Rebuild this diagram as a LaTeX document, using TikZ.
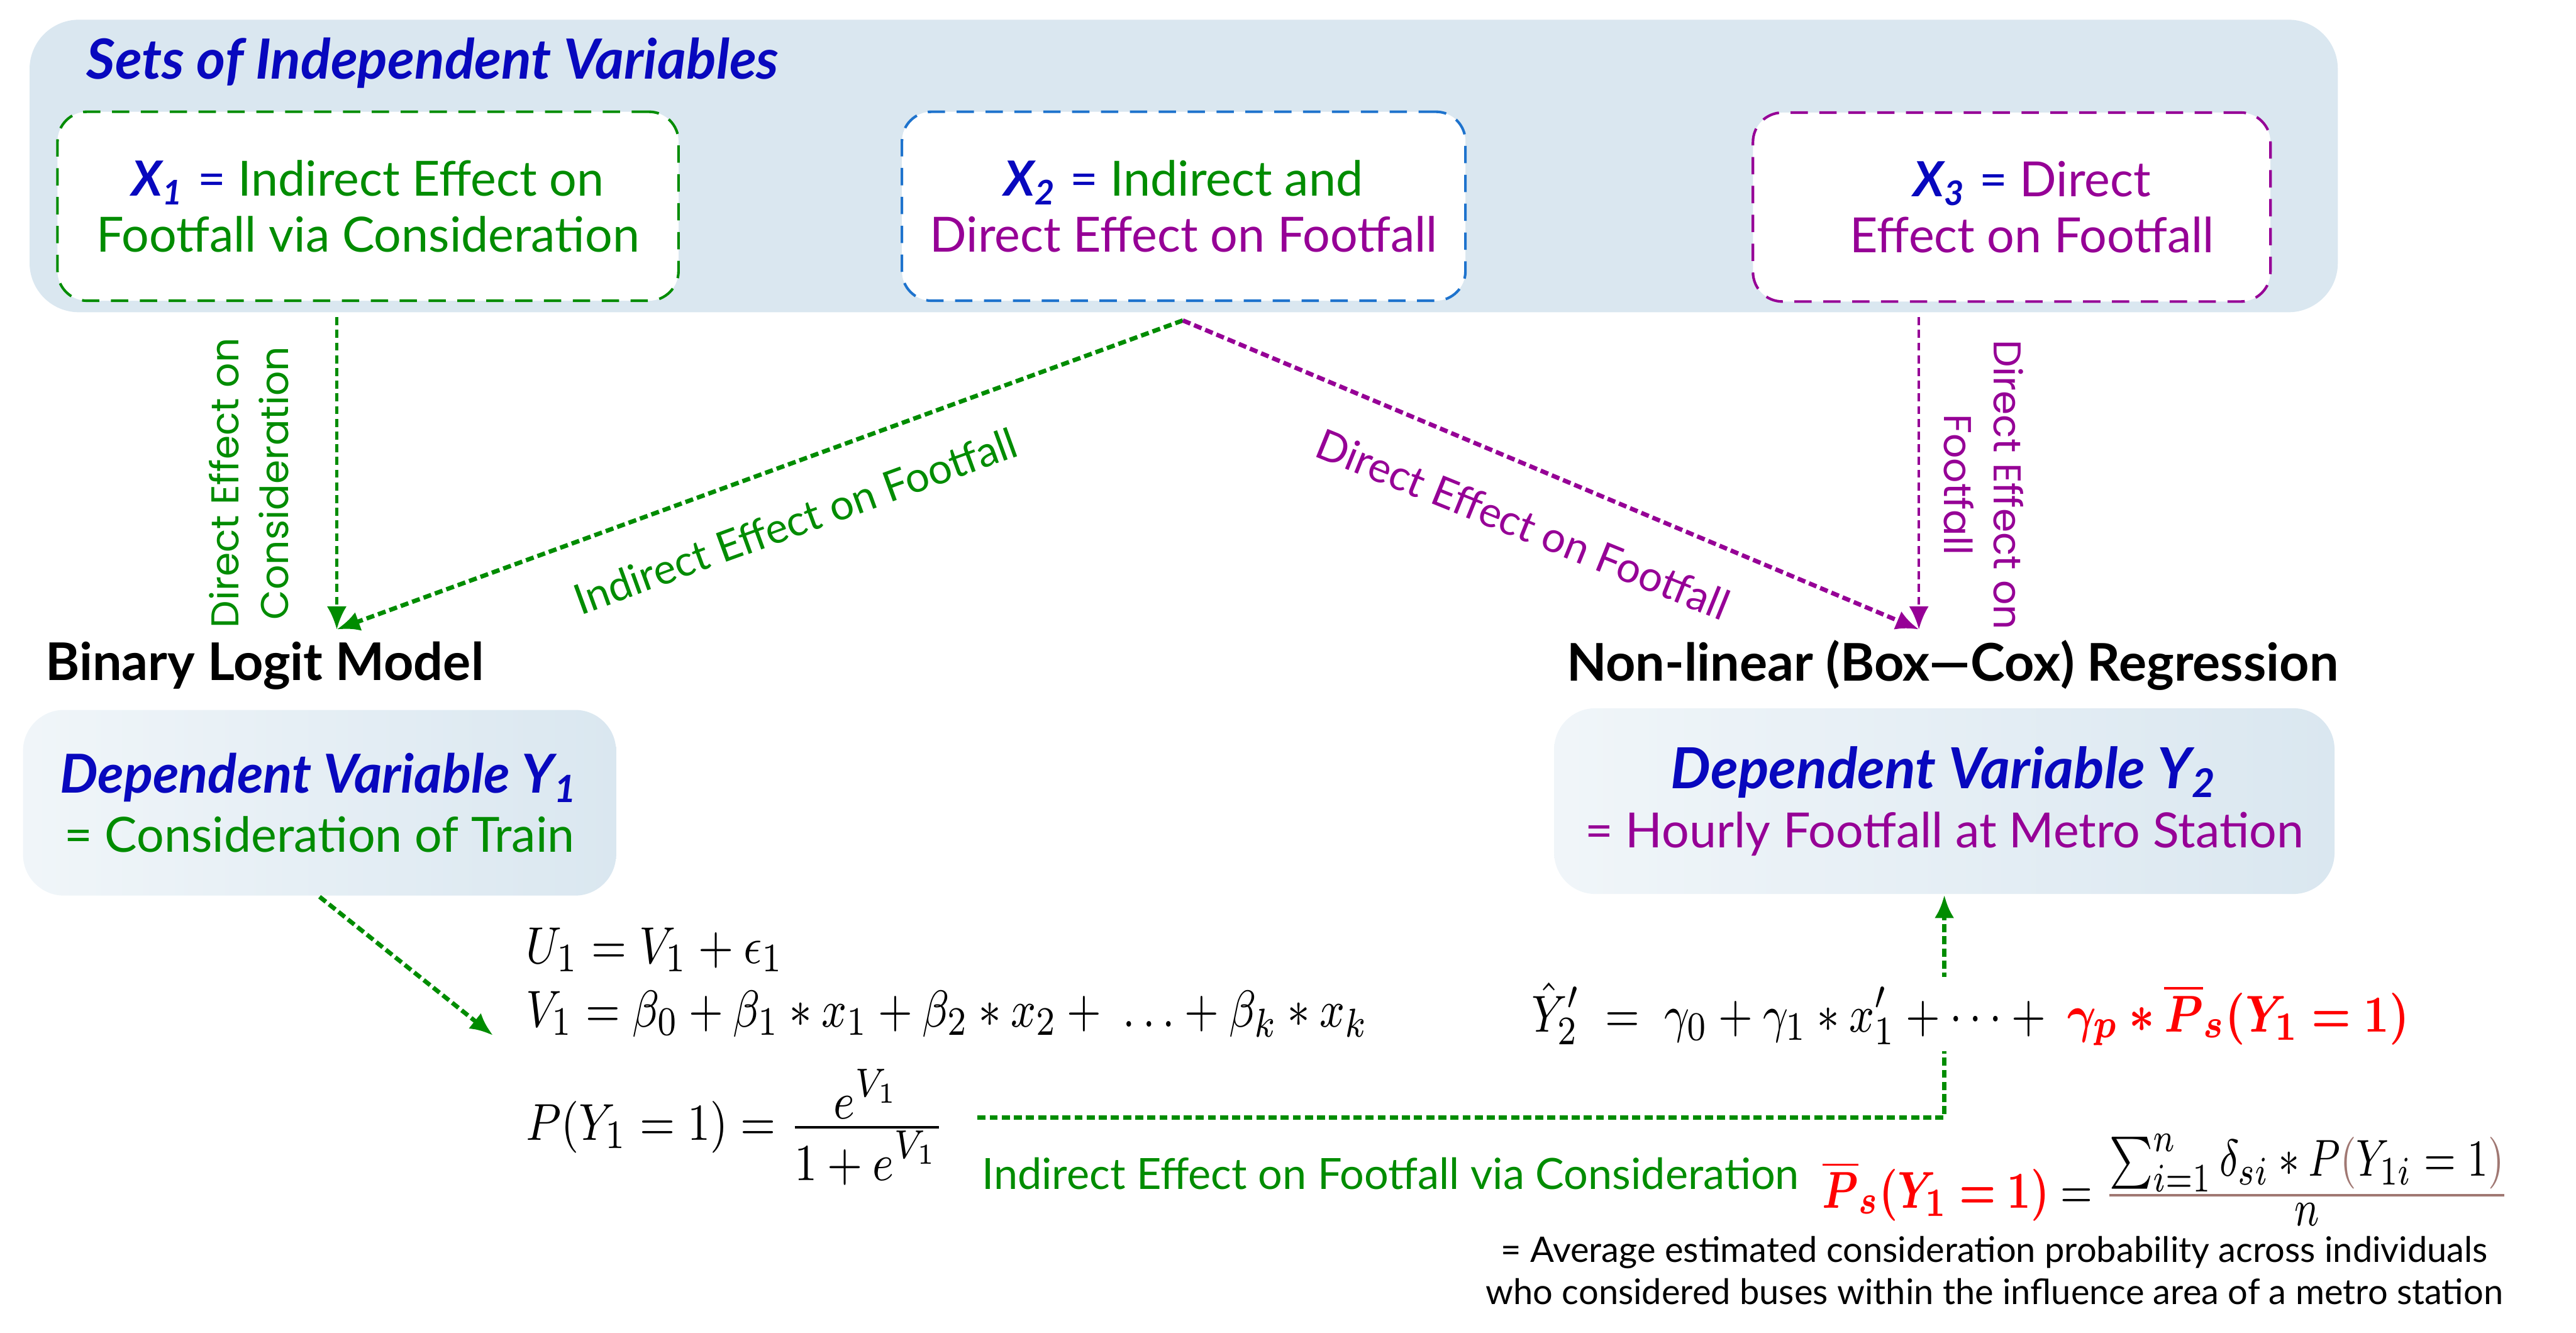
\documentclass[tikz,border=0pt]{standalone}
\usepackage[no-math]{fontspec}
\setmainfont{Lato}
\newfontfamily\gothic{Poppins}
\usepackage{amsmath,bm}
\usetikzlibrary{arrows.meta,positioning}

\definecolor{dblue}{RGB}{8,8,190}
\definecolor{ggreen}{RGB}{0,140,0}
\definecolor{ppurple}{RGB}{150,0,150}
\definecolor{bblue}{RGB}{30,115,205}
\definecolor{panelfill}{RGB}{218,231,240}
\definecolor{brn}{RGB}{160,120,115}

\newcommand{\xlab}[1]{\textcolor{dblue}{\textbf{\textit{X\textsubscript{#1}}} =}}
\newcommand{\ylab}[1]{\textcolor{dblue}{\textbf{\textit{Dependent Variable Y\textsubscript{#1}}}}}
\newcommand{\eqfit}[2][0.85]{\scalebox{#1}[1]{#2}}

\tikzset{
  panel/.style={fill=panelfill, rounded corners=0.3cm, minimum width=14.05cm, minimum height=1.78cm},
  xbox/.style={draw, densely dashed, line width=0.45pt, rounded corners=0.18cm, fill=white, align=center, minimum height=1.15cm, font=\fontsize{8.4}{9.7}\selectfont},
  ybox/.style={rounded corners=0.25cm, left color=panelfill!40, right color=panelfill, align=center, minimum height=1.13cm, font=\fontsize{8.4}{10.2}\selectfont},
  heading/.style={font=\fontsize{9}{10}\selectfont\bfseries, inner sep=0pt},
  vlab/.style={font=\gothic\fontsize{6.7}{8.6}\selectfont, align=center},
  dlab/.style={font=\fontsize{7.3}{9}\selectfont},
  gvert/.style={ggreen, line width=0.5pt, dash pattern=on 1.4pt off 0.8pt, -{Latex[length=1.4mm,width=1.2mm]}},
  pvert/.style={ppurple, line width=0.5pt, dash pattern=on 1.4pt off 0.8pt, -{Latex[length=1.4mm,width=1.2mm]}},
  gdiag/.style={ggreen, line width=0.75pt, dash pattern=on 1.4pt off 0.7pt, -{Latex[length=1.4mm,width=1.2mm]}},
  pdiag/.style={ppurple, line width=0.75pt, dash pattern=on 1.4pt off 0.7pt, -{Latex[length=1.4mm,width=1.2mm]}},
  eq/.style={font=\fontsize{9.5}{11}\selectfont, inner sep=1pt}
}

\begin{document}
\begin{tikzpicture}[font=\fontsize{7.5}{9.7}\selectfont]
\useasboundingbox (0,0) rectangle (15.68,-8.11);

% independent variables
\node[panel] (panel) at (7.205,-1.01) {};
\node[heading, text=dblue, anchor=base west, font=\fontsize{9.6}{10}\selectfont\bfseries\itshape] (sets) at (0.52,-0.48) {Sets of Independent Variables};
\node[xbox, draw=ggreen, text=ggreen, minimum width=3.78cm] (x1) at (2.24,-1.255) {\xlab{1} Indirect Effect on\\Footfall via Consideration};
\node[xbox, draw=bblue, text=ppurple, minimum width=3.43cm] (x2) at (7.205,-1.255) {\xlab{2} \textcolor{ggreen}{Indirect and}\\Direct Effect on Footfall};
\node[xbox, draw=ppurple, text=ppurple, minimum width=3.15cm] (x3) at (12.245,-1.26) {\hspace*{0.25cm}\xlab{3} Direct\\\hspace*{0.25cm}Effect on Footfall};

\coordinate (top1) at (2.05,-1.93);
\coordinate (top2) at (7.20,-1.95);
\coordinate (top3) at (11.68,-1.93);
\coordinate (lt) at (2.05,-3.83);
\coordinate (rt) at (11.68,-3.83);

\draw[gvert] (top1) -- (lt);
\draw[gdiag] (top2) -- (lt);
\draw[pdiag] (top2) -- (rt);
\draw[pvert] (top3) -- (rt);

\node[vlab, text=ggreen, rotate=90] (lab1) at (1.515,-2.94) {Direct Effect on\\Consideration};
\node[dlab, text=ggreen, rotate=20] (lab2) at (4.84,-3.17) {Indirect Effect on Footfall};
\node[dlab, text=ppurple, rotate=-22] (lab3) at (9.27,-3.19) {Direct Effect on Footfall};
\node[vlab, text=ppurple, rotate=-90] (lab4) at (12.075,-2.95) {Direct Effect on\\Footfall};

% dependent variables
\node[heading, anchor=west] (binary) at (0.27,-4.05) {Binary Logit Model};
\node[heading, anchor=east] (boxcox) at (14.24,-4.05) {Non-linear (Box---Cox) Regression};
\node[ybox, minimum width=3.61cm, text=ggreen] (y1) at (1.945,-4.885) {{\fontsize{9.3}{10.2}\selectfont\ylab{1}}\\= Consideration of Train};
\node[ybox, minimum width=4.75cm, text=ppurple] (y2) at (11.835,-4.875) {{\fontsize{9.8}{10.2}\selectfont\ylab{2}}\\= Hourly Footfall at Metro Station};

% equations
\coordinate (pin) at (3.00,-6.30);
\coordinate (ind) at (5.95,-6.80);
\draw[gdiag] (y1.south) -- (pin);
\draw[gdiag] (ind) -| (y2.south);

\node[eq, anchor=west] (equ) at (3.16,-5.78) {\eqfit{$U_1 = V_1 + \epsilon_1$}};
\node[eq, anchor=west] (eqv) at (3.16,-6.17) {\eqfit[0.83]{$V_1 = \beta_0 + \beta_1 \ast x_1 + \beta_2 \ast x_2 +\ \ldots + \beta_k \ast x_k$}};
\node[eq, anchor=west] (eqp) at (3.16,-6.86) {\eqfit{$P(Y_1 = 1) = \frac{\textstyle e^{V_1}}{\textstyle 1 + e^{V_1}}$}};
\node[eq, anchor=west, fill=white] (eqy) at (9.28,-6.17) {\eqfit[0.83]{$\hat{Y}'_2 \;=\; \gamma_0 + \gamma_1 \ast x'_1 + \cdots +\ \textcolor{red}{\boldsymbol{\gamma_p \ast \overline{P}_s(Y_1 = 1)}}$}};
\node[dlab, text=ggreen, anchor=west, inner sep=0pt, font=\fontsize{7.45}{9}\selectfont] (via) at (5.97,-7.14) {Indirect Effect on Footfall via Consideration};
\node[eq, anchor=west] (eqs) at (11.05,-7.18) {\eqfit[0.77]{$\textcolor{red}{\boldsymbol{\overline{P}_s(Y_1 = 1)}} = {\color{brn}\frac{\color{black}\textstyle\sum_{i=1}^{n} \delta_{si} \ast P{\color{brn}(}Y_{1i} = 1{\color{brn})}}{\color{black}\textstyle n}}$}};
\node[align=center, font=\fontsize{6.1}{7.3}\selectfont] (note) at (12.14,-7.73) {= Average estimated consideration probability across individuals\\who considered buses within the influence area of a metro station};
\end{tikzpicture}
\end{document}
